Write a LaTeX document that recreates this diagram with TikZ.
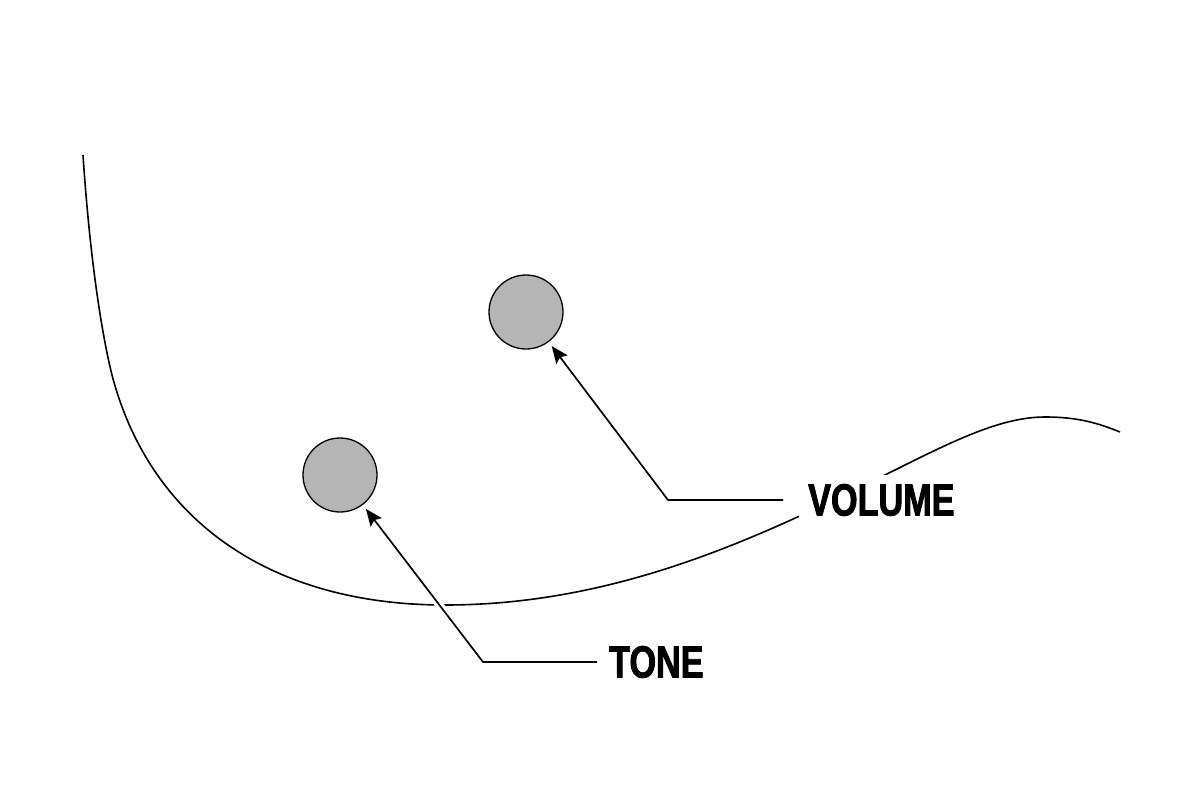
\documentclass[tikz,border=0pt]{standalone}
\usepackage{fontspec}
\newfontfamily\knobfont{Liberation Sans Bold}[FakeStretch=0.76, FakeBold=1.8]
\usetikzlibrary{arrows.meta}
\begin{document}
\begin{tikzpicture}
[x=1pt, y=-1pt,
 knob/.style={circle, draw, line width=1.3pt, fill=black!29, minimum size=74pt, inner sep=0pt},
 knoblabel/.style={fill=white, inner xsep=9pt, inner ysep=9pt, font=\knobfont\fontsize{45}{45}\selectfont},
 leader/.style={line width=1.7pt, arrows={Stealth[length=17pt, width=14pt, inset=3pt]-}}]

\useasboundingbox (0,0) rectangle (1200,800);

% body outline
\draw[line width=1.6pt] (83,155) .. controls (90,260) and (102,335) .. (112,375)
  .. controls (150,520) and (270,605) .. (445,605)
  .. controls (600,605) and (730,550) .. (840,497)
  .. controls (930,454) and (990,417) .. (1045,417)
  .. controls (1080,417) and (1100,424) .. (1120,432);

\node[knob] (V) at (526,312) {};
\node[knob] (T) at (340,475) {};

\node[knoblabel, anchor=west] (VL) at (799,500) {VOLUME};
\node[knoblabel, anchor=west] (TL) at (600,662) {TONE};

\coordinate (VB) at (668,500);
\coordinate (TB) at (483,662);

\draw[white, line width=8pt, shorten >=12pt] (TB) -- (T);
\draw[leader, shorten <=5pt, shorten >=16pt] (V) -- (VB) -- (VL.west);
\draw[leader, shorten <=5pt, shorten >=3pt] (T) -- (TB) -- (TL.west);

\end{tikzpicture}
\end{document}
